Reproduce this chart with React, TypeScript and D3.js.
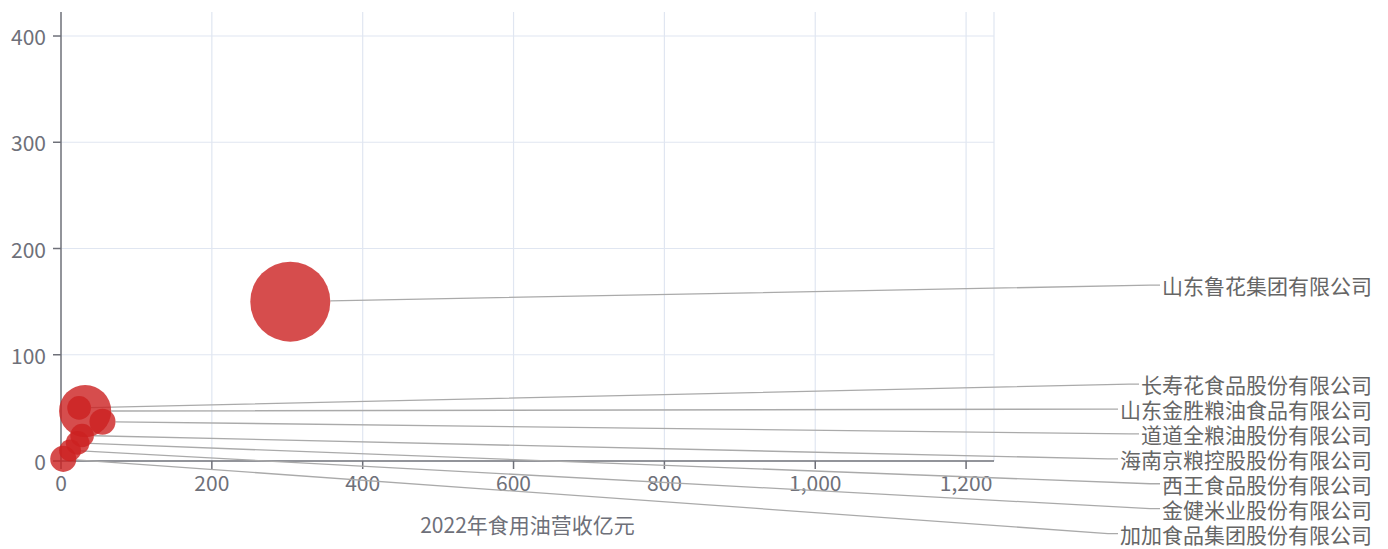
import React, { useMemo } from "react";
import * as d3 from "d3";

// ---- data ----
const companies = [
  "山东鲁花集团有限公司",
  "长寿花食品股份有限公司",
  "山东金胜粮油食品有限公司",
  "道道全粮油股份有限公司",
  "海南京粮控股股份有限公司",
  "西王食品股份有限公司",
  "金健米业股份有限公司",
  "加加食品集团股份有限公司",
];
const revenue = [304, 24, 32, 55, 28, 22, 12, 3]; // x: 2022年食用油营收(亿元)
const yValues = [150, 50, 47, 37, 24, 17, 10, 2];
const sizeValues = [160, 14, 68, 17, 14, 14, 12, 17];
const xTicks = [0, 200, 400, 600, 800, 1000, 1200];
const yTicks = [0, 100, 200, 300, 400];
const xMax = 1237;
const yMax = 422.6;
const xAxisName = "2022年食用油营收亿元";

const W = 1388;
const H = 549;
const FONT = "'Noto Sans CJK SC', 'Noto Sans', sans-serif";

type Item = { top: number; h: number; idx: number };

// port of ECharts' label shiftLayout on Y
function shiftLayout(list: Item[], minBound: number, maxBound: number) {
  const len = list.length;
  if (len < 2) return;
  list.sort((a, b) => a.top - b.top);
  let lastPos = 0;
  for (let i = 0; i < len; i++) {
    const it = list[i];
    const delta = it.top - lastPos;
    if (delta < 0) it.top -= delta;
    lastPos = it.top + it.h;
  }
  const first = list[0];
  const last = list[len - 1];
  let minGap = 0;
  let maxGap = 0;
  const update = () => {
    minGap = first.top - minBound;
    maxGap = maxBound - last.top - last.h;
  };
  const shiftList = (d: number, s: number, e: number) => {
    for (let i = s; i < e; i++) list[i].top += d;
  };
  const squeezeGaps = (delta: number, maxP: number) => {
    const gaps: number[] = [];
    let total = 0;
    for (let i = 1; i < len; i++) {
      const g = Math.max(list[i].top - list[i - 1].top - list[i - 1].h, 0);
      gaps.push(g);
      total += g;
    }
    if (!total) return;
    const p = Math.min(Math.abs(delta) / total, maxP);
    if (delta > 0) {
      for (let i = 0; i < len - 1; i++) shiftList(gaps[i] * p, 0, i + 1);
    } else {
      for (let i = len - 1; i > 0; i--) shiftList(-gaps[i - 1] * p, i, len);
    }
  };
  const takeBoundsGap = (gThis: number, gOther: number, dir: number) => {
    if (gThis < 0) {
      const mv = Math.min(gOther, -gThis);
      if (mv > 0) {
        shiftList(mv * dir, 0, len);
        const rem = mv + gThis;
        if (rem < 0) squeezeGaps(-rem * dir, 1);
      } else {
        squeezeGaps(-gThis * dir, 1);
      }
    }
  };
  update();
  if (minGap < 0) squeezeGaps(-minGap, 0.8);
  if (maxGap < 0) squeezeGaps(maxGap, 0.8);
  update();
  takeBoundsGap(minGap, maxGap, 1);
  takeBoundsGap(maxGap, minGap, -1);
}

export default function App() {
  const left = 61;
  const right = 994;
  const top = 12;
  const bottom = 461;

  const x = d3.scaleLinear().domain([0, xMax]).range([left, right]);
  const y = d3.scaleLinear().domain([0, yMax]).range([bottom, top]);
  const r = d3.scaleSqrt().domain([0, d3.max(sizeValues) as number]).range([0, 40]);
  const fmt = d3.format(",");

  const labelFont = 21;
  const labelH = 24.9;
  const labelRight = 1372;
  const length2 = 10;

  const layout = useMemo(() => {
    const items: Item[] = companies.map((_, i) => ({
      top: y(yValues[i]) - labelH - 4,
      h: labelH,
      idx: i,
    }));
    shiftLayout(items, 0, H - 3);
    const res: { cy: number; lx: number }[] = [];
    items.forEach((it) => {
      const lx = labelRight - companies[it.idx].length * labelFont;
      res[it.idx] = { cy: it.top + it.h / 2, lx };
    });
    return res;
  }, []);

  const order = d3.range(companies.length).sort((a, b) => sizeValues[b] - sizeValues[a]);

  return (
    <svg
      width={W}
      height={H}
      style={{ position: "absolute", left: 0, top: 0, background: "#fff" }}
      fontFamily={FONT}
    >
      {/* grid */}
      {xTicks.slice(1).concat([xMax]).map((t) => (
        <line key={"gx" + t} x1={x(t)} x2={x(t)} y1={top} y2={bottom} stroke="#E0E6F1" strokeWidth={1.2} />
      ))}
      {yTicks.slice(1).map((t) => (
        <line key={"gy" + t} x1={left} x2={right} y1={y(t)} y2={y(t)} stroke="#E0E6F1" strokeWidth={1.2} />
      ))}
      {/* axes */}
      <line x1={left} x2={left} y1={top} y2={bottom} stroke="#6E7079" strokeWidth={1.5} />
      <line x1={left} x2={right} y1={bottom} y2={bottom} stroke="#6E7079" strokeWidth={1.5} />
      {yTicks.map((t) => (
        <g key={"ty" + t}>
          <line x1={left - 8} x2={left} y1={y(t)} y2={y(t)} stroke="#6E7079" strokeWidth={1.5} />
          <text x={46} y={y(t)} textAnchor="end" dominantBaseline="central" fontSize={21} fill="#6E7079">
            {fmt(t)}
          </text>
        </g>
      ))}
      {xTicks.map((t) => (
        <g key={"tx" + t}>
          <line x1={x(t)} x2={x(t)} y1={bottom} y2={bottom + 8} stroke="#6E7079" strokeWidth={1.5} />
          <text x={x(t)} y={482} textAnchor="middle" dominantBaseline="central" fontSize={21} fill="#6E7079">
            {fmt(t)}
          </text>
        </g>
      ))}
      <text x={(left + right) / 2} y={524} textAnchor="middle" dominantBaseline="central" fontSize={21} fill="#6E7079">
        {xAxisName}
      </text>

      {/* label lines */}
      {companies.map((c, i) => {
        const cx = x(revenue[i]);
        const cy = y(yValues[i]);
        const rr = r(sizeValues[i]);
        const L = layout[i];
        const kx = L.lx - length2 - 2;
        const ky = L.cy;
        const dx = kx - cx;
        const dy = ky - cy;
        const dd = Math.hypot(dx, dy);
        const sx = cx + (rr * dx) / dd;
        const sy = cy + (rr * dy) / dd;
        return (
          <polyline
            key={"ll" + c}
            points={`${sx},${sy} ${kx},${ky} ${L.lx - 2},${ky}`}
            fill="none"
            stroke="#aaa"
            strokeWidth={1.3}
          />
        );
      })}

      {/* bubbles */}
      {order.map((i) => (
        <circle
          key={"b" + companies[i]}
          cx={x(revenue[i])}
          cy={y(yValues[i])}
          r={r(sizeValues[i])}
          fill="rgb(204,32,32)"
          fillOpacity={0.8}
        />
      ))}

      {/* labels */}
      {companies.map((c, i) => (
        <text
          key={"lb" + c}
          x={labelRight}
          y={layout[i].cy}
          textAnchor="end"
          dominantBaseline="central"
          fontSize={labelFont}
          fill="#666"
        >
          {c}
        </text>
      ))}
    </svg>
  );
}
